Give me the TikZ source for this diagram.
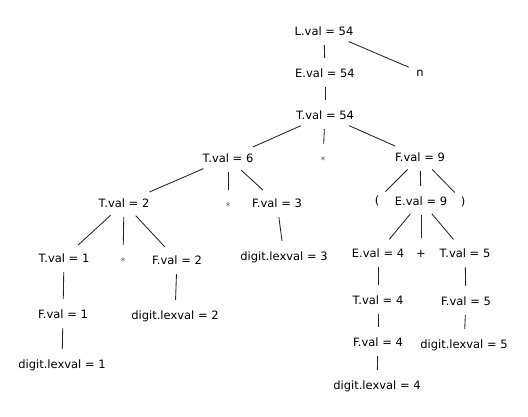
\documentclass[tikz,border=0pt]{standalone}
\usepackage{fontspec}
\setmainfont{DejaVu Sans}
\begin{document}
\begin{tikzpicture}[x=1pt,y=-1pt,
  lbl/.style={inner sep=1pt, minimum height=16pt, text height=8.4pt, text depth=0pt, font=\fontsize{11.5}{13}\selectfont},
  star/.style={lbl, text=black!70, font=\fontsize{9}{10}\selectfont},
  edge/.style={line width=0.85pt, draw=black!85, shorten <=6pt, shorten >=7pt}]
\useasboundingbox (0,0) rectangle (528,416);
\node[lbl] (L) at (324,31) {L.val = 54};
\node[lbl] (E54) at (325,73) {E.val = 54};
\node[lbl] (n) at (420,72) {n};
\node[lbl] (T54) at (325,115) {T.val = 54};
\node[lbl] (T6) at (228,158) {T.val = 6};
\node[star] (s1) at (323,159) {*};
\node[lbl] (F9) at (420,157) {F.val = 9};
\node[lbl] (T2) at (124,203) {T.val = 2};
\node[star] (s2) at (228,205) {*};
\node[lbl] (F3) at (277,203) {F.val = 3};
\node[lbl] (lp) at (377,200) {(};
\node[lbl] (E9) at (421,201) {E.val = 9};
\node[lbl] (rp) at (463,201) {)};
\node[lbl] (T1) at (64,258) {T.val = 1};
\node[star] (s3) at (123,260) {*};
\node[lbl] (F2) at (177,260) {F.val = 2};
\node[lbl] (d3) at (284,256) {digit.lexval = 3};
\node[lbl] (E4) at (378,253) {E.val = 4};
\node[lbl] (plus) at (421,253) {+};
\node[lbl] (T5) at (465,253) {T.val = 5};
\node[lbl] (F1) at (63,314) {F.val = 1};
\node[lbl] (d2) at (175,315) {digit.lexval = 2};
\node[lbl] (T4) at (378,300) {T.val = 4};
\node[lbl] (F5) at (466,301) {F.val = 5};
\node[lbl] (F4) at (378,342) {F.val = 4};
\node[lbl] (d5) at (464,344) {digit.lexval = 5};
\node[lbl] (d1) at (62,364) {digit.lexval = 1};
\node[lbl] (d4) at (377,385) {digit.lexval = 4};
\foreach \a/\b in {L/E54, L/n, E54/T54, T54/T6, T54/s1, T54/F9, T6/T2, T6/s2, T6/F3, F3/d3,
  F9/lp, F9/E9, F9/rp, T2/T1, T2/s3, T2/F2, T1/F1, F1/d1, F2/d2, E9/E4, E9/plus, E9/T5,
  E4/T4, T4/F4, F4/d4, T5/F5, F5/d5}
  \draw[edge] (\a) -- (\b);
\end{tikzpicture}
\end{document}
